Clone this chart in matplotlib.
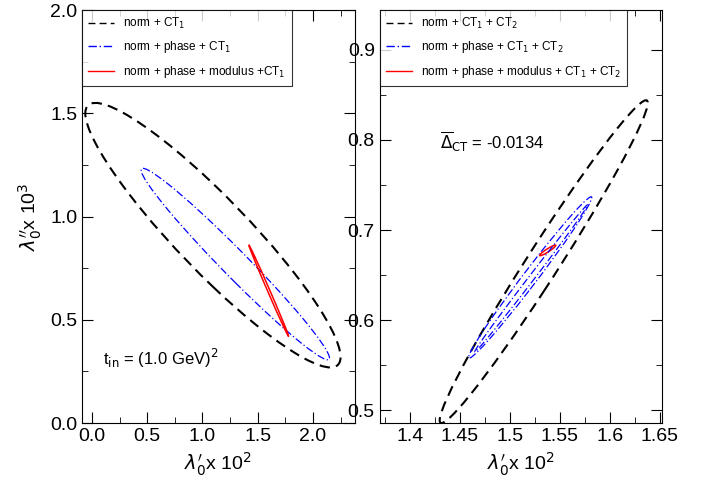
import matplotlib
matplotlib.use("Agg")
import matplotlib.pyplot as plt
from matplotlib.patches import Circle
from matplotlib.lines import Line2D
from matplotlib.transforms import Affine2D
from matplotlib.ticker import MultipleLocator

plt.rcParams['font.family'] = ['Liberation Sans', 'DejaVu Sans']

# contours given by leftmost point, rightmost point and vertical half-thickness at centre
left_labels = ["norm + CT$_1$", "norm + phase + CT$_1$", "norm + phase + modulus +CT$_1$"]
left_ends = [((-0.06, 1.50), (2.25, 0.32)),
             ((0.445, 1.225), (2.15, 0.315)),
             ((1.42, 0.862), (1.78, 0.42))]
left_half = [0.25, 0.09, 0.014]

right_labels = ["norm + CT$_1$ + CT$_2$", "norm + phase + CT$_1$ + CT$_2$",
                "norm + phase + modulus + CT$_1$ + CT$_2$"]
right_ends = [((1.43, 0.489), (1.638, 0.841)),
              ((1.459, 0.559), (1.582, 0.736)),
              ((1.530, 0.672), (1.546, 0.683))]
right_half = [0.033, 0.013, 0.002]
# inner blue contour in the right panel
right_inner_ends = ((1.465, 0.565), (1.578, 0.728))
right_inner_half = 0.005

colors = ["black", "blue", "red"]
styles = [(0, (5, 3)), (0, (6, 2, 1, 2)), "-"]
widths = [1.5, 0.9, 1.1]

fig = plt.figure(figsize=(7.07, 4.84), dpi=100)
axL = fig.add_axes([0.116, 0.126, 0.386, 0.853])
axR = fig.add_axes([0.537, 0.126, 0.399, 0.853])


def contour(ax, ends, h, c, ls, lw):
    (x1, y1), (x2, y2) = ends
    cx, cy = (x1 + x2) / 2, (y1 + y2) / 2
    ax_, ay_ = (x2 - x1) / 2, (y2 - y1) / 2
    tr = Affine2D.from_values(ax_, ay_, 0, h, cx, cy) + ax.transData
    ax.add_patch(Circle((0, 0), 1, transform=tr, fill=False, edgecolor=c,
                        linestyle=ls, linewidth=lw))


def draw(ax, ends_list, halves, labels):
    handles = []
    for ends, h, c, ls, lw, lab in zip(ends_list, halves, colors, styles, widths, labels):
        contour(ax, ends, h, c, ls, lw)
        handles.append(Line2D([], [], color=c, linestyle=ls, linewidth=1.0, label=lab))
    leg = ax.legend(handles=handles, loc="upper left", fontsize=8.5, frameon=True,
                    fancybox=False, edgecolor="black", borderaxespad=0.0,
                    handlelength=2.2, labelspacing=0.7, borderpad=0.5)
    leg.get_frame().set_linewidth(0.8)
    ax.tick_params(which="both", direction="in", top=True, right=True, labelsize=14)
    ax.tick_params(which="major", length=8)
    ax.tick_params(which="minor", length=4)


draw(axL, left_ends, left_half, left_labels)
axL.set_xlim(-0.09, 2.38)
axL.set_ylim(0, 2.0)
axL.xaxis.set_major_locator(MultipleLocator(0.5))
axL.xaxis.set_minor_locator(MultipleLocator(0.25))
axL.yaxis.set_major_locator(MultipleLocator(0.5))
axL.yaxis.set_minor_locator(MultipleLocator(0.25))
axL.set_xlabel(r"$\lambda_0^{\prime}$x 10$^2$", fontsize=14)
axL.set_ylabel(r"$\lambda_0^{\prime\prime}$x 10$^3$", fontsize=14)
axL.text(0.1, 0.28, r"t$_{\rm in}$ = (1.0 GeV)$^2$", fontsize=12)

draw(axR, right_ends, right_half, right_labels)
contour(axR, right_inner_ends, right_inner_half, colors[1], styles[1], widths[1])
axR.set_xlim(1.37, 1.652)
axR.set_ylim(0.486, 0.944)
axR.xaxis.set_minor_locator(MultipleLocator(0.025))
axR.yaxis.set_major_locator(MultipleLocator(0.1))
axR.yaxis.set_minor_locator(MultipleLocator(0.05))
axR.set_xticks([1.4, 1.45, 1.5, 1.55, 1.6, 1.65])
axR.set_xticklabels(["1.4", "1.45", "1.5", "1.55", "1.6", "1.65"])
axR.set_xlabel(r"$\lambda_0^{\prime}$x 10$^2$", fontsize=14)
axR.text(1.43, 0.79, r"$\overline{\Delta}_{\rm CT}$ = -0.0134", fontsize=12)

fig.savefig("out.png", dpi=100)
